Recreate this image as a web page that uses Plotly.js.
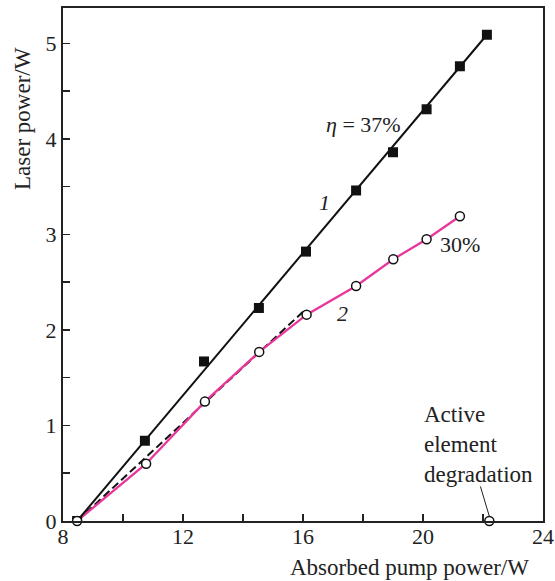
<!DOCTYPE html>
<html>
<head>
<meta charset="utf-8">
<script src="https://cdn.plot.ly/plotly-3.0.1.min.js"></script>
<style>html,body{margin:0;padding:0;background:#fff;}#chart{width:555px;height:581px;}</style>
</head>
<body>
<div id="chart"></div>
<script>
// Curve 1 (squares)
const pump1 = [8.47, 10.73, 12.7, 14.53, 16.1, 17.77, 19.0, 20.12, 21.23, 22.13];
const laser1 = [0.0, 0.84, 1.67, 2.23, 2.82, 3.46, 3.86, 4.31, 4.76, 5.09];
// Linear fit of curve 1 (eta = 37%)
const fit1X = [8.47, 22.13];
const fit1Y = [0.0, 5.09];
// Curve 2 (open circles)
const pump2 = [8.47, 10.77, 12.73, 14.54, 16.12, 17.77, 19.01, 20.12, 21.23];
const laser2 = [0.0, 0.60, 1.25, 1.77, 2.16, 2.46, 2.74, 2.95, 3.19];
// Dashed linear fit of curve 2 initial part
const fit2X = [8.47, 16.0];
const fit2Y = [0.0, 2.19];
// Degradation point
const degX = [22.21];
const degY = [0.0];

const xTicks = [8, 12, 16, 20, 24];
const yTicks = [0, 1, 2, 3, 4, 5];

const serif = "Liberation Serif, Times New Roman, serif";
const pink = "#e8369a";
const ink = "#222";

const traces = [
  {x: fit2X, y: fit2Y, mode: "lines", line: {color: "#111", width: 2, dash: "8px,4px"}, hoverinfo: "skip"},
  {x: pump2, y: laser2, mode: "lines", line: {color: pink, width: 2.3}},
  {x: fit1X, y: fit1Y, mode: "lines", line: {color: "#111", width: 2}},
  {x: pump1, y: laser1, mode: "markers", marker: {symbol: "square", size: 10, color: "#111"}},
  {x: pump2.concat(degX), y: laser2.concat(degY), mode: "markers", cliponaxis: false,
   marker: {symbol: "circle", size: 9, color: "#fff", line: {color: "#111", width: 1.5}}}
];

const layout = {
  width: 555, height: 581,
  margin: {l: 63, r: 12, t: 8, b: 60},
  paper_bgcolor: "#fff", plot_bgcolor: "#fff",
  showlegend: false,
  font: {family: serif, size: 22, color: ink},
  xaxis: {
    range: [8, 24], tickvals: xTicks, ticktext: xTicks.map(String),
    ticks: "inside", ticklen: 7, tickwidth: 1.5, tickcolor: ink, ticklabelstandoff: -5,
    minor: {dtick: 2, tick0: 8, ticks: "inside", ticklen: 7, tickwidth: 1.5, tickcolor: ink},
    showline: true, linecolor: ink, linewidth: 2, mirror: true,
    showgrid: false, zeroline: false, tickfont: {family: serif, size: 22, color: ink}
  },
  yaxis: {
    range: [0, 5.37], tickvals: yTicks, ticktext: yTicks.map(String),
    ticks: "inside", ticklen: 7, tickwidth: 1.5, tickcolor: ink,
    minor: {dtick: 0.5, tick0: 0, ticks: "inside", ticklen: 7, tickwidth: 1.5, tickcolor: ink},
    showline: true, linecolor: ink, linewidth: 2, mirror: true,
    showgrid: false, zeroline: false, tickfont: {family: serif, size: 22, color: ink}
  },
  annotations: [
    {xref: "paper", yref: "paper", x: 0.975, y: -0.09, xanchor: "right", yanchor: "middle",
     text: "Absorbed pump power/W", showarrow: false, font: {family: serif, size: 23, color: ink}},
    {xref: "paper", yref: "paper", x: -0.083, y: 0.784, xanchor: "center", yanchor: "middle", textangle: -90,
     text: "Laser power/W", showarrow: false, font: {family: serif, size: 23, color: ink}},
    {x: 18.03, y: 4.15, text: "<i>η</i> = 37%", showarrow: false, xanchor: "center", yanchor: "middle",
     font: {family: serif, size: 22, color: ink}},
    {x: 16.7, y: 3.33, text: "<i>1</i>", showarrow: false, font: {family: serif, size: 22, color: ink}},
    {x: 21.23, y: 2.89, text: "30%", showarrow: false, xanchor: "center", font: {family: serif, size: 22, color: ink}},
    {x: 17.3, y: 2.17, text: "<i>2</i>", showarrow: false, font: {family: serif, size: 22, color: ink}},
    {x: 19.97, y: 0.805, text: "Active<br>element<br>degradation", showarrow: false, xanchor: "left", yanchor: "middle",
     align: "left", font: {family: serif, size: 23, color: ink}},
    {x: 22.21, y: 0.05, ax: 21.9, ay: 0.377, axref: "x", ayref: "y", showarrow: true, arrowhead: 0,
     arrowwidth: 1, arrowcolor: ink, text: ""}
  ]
};

Plotly.newPlot("chart", traces, layout, {displayModeBar: false, staticPlot: true});
</script>
</body>
</html>
